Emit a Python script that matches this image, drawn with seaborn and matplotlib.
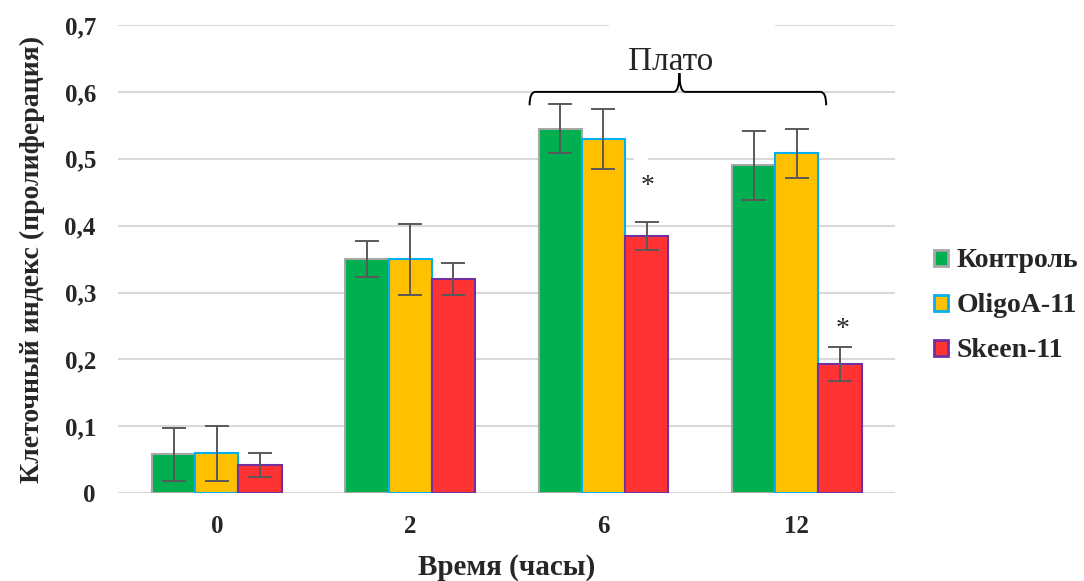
import pandas as pd
import numpy as np
import seaborn as sns
import matplotlib.pyplot as plt
from matplotlib.path import Path
from matplotlib.patches import PathPatch, Rectangle

# Data
times = ['0', '2', '6', '12']
series = ['Контроль', 'OligoA-11', 'Skeen-11']
control = [0.058, 0.350, 0.545, 0.490]
oligo = [0.060, 0.350, 0.530, 0.508]
skeen = [0.042, 0.320, 0.385, 0.193]
control_err = [0.039, 0.027, 0.037, 0.052]
oligo_err = [0.041, 0.053, 0.045, 0.036]
skeen_err = [0.018, 0.024, 0.021, 0.025]

fill_colors = ['#00b050', '#ffc000', '#ff3333']
edge_colors = ['#a6a6a6', '#00b0f0', '#7030a0']

df = pd.DataFrame({
    'time': times * 3,
    'group': np.repeat(series, len(times)),
    'value': control + oligo + skeen,
})
errs = [control_err, oligo_err, skeen_err]

sns.set_style('white')
plt.rcParams['font.family'] = ['Liberation Serif', 'DejaVu Serif']

fig = plt.figure(figsize=(10.84, 5.81), dpi=100)
ax = fig.add_axes([0.109, 0.151, 0.717, 0.806])

sns.barplot(data=df, x='time', y='value', hue='group', order=times,
            hue_order=series, palette=fill_colors, width=0.67,
            saturation=1, ax=ax, legend=True)

# edges + error bars
for cont, ec, err in zip(ax.containers, edge_colors, errs):
    xs, hs = [], []
    for bar in cont:
        bar.set_edgecolor(ec)
        bar.set_linewidth(1.5)
        xs.append(bar.get_x() + bar.get_width() / 2)
        hs.append(bar.get_height())
    ax.errorbar(xs, hs, yerr=err, fmt='none', ecolor='#595959',
                elinewidth=1.4, capsize=8.5, capthick=1.4, zorder=5)

ax.set_ylim(0, 0.7)
ax.set_xlim(-0.51, 3.51)
yt = np.arange(0, 0.71, 0.1)
ax.set_yticks(yt)
ax.set_yticklabels(['0'] + [('%.1f' % v).replace('.', ',') for v in yt[1:]])
ax.tick_params(axis='both', labelsize=18, length=0, pad=16)
for lab in ax.get_xticklabels() + ax.get_yticklabels():
    lab.set_fontweight('bold')
ax.yaxis.grid(True, color='#d9d9d9', linewidth=1.5)
ax.set_axisbelow(True)
sns.despine(ax=ax, left=True, bottom=True)
ax.axhline(0, color='#d9d9d9', linewidth=1.5, zorder=0.6)

ax.set_xlabel('Время (часы)', fontsize=21, fontweight='bold', labelpad=11)
ax.set_ylabel('Клеточный индекс (пролиферация)', fontsize=20,
              fontweight='bold', labelpad=14)

# gaps in the grid behind the text boxes
ax.add_patch(Rectangle((2.03, 0.69), 0.85, 0.02, color='white',
                       clip_on=False, zorder=0.8))
ax.add_patch(Rectangle((2.16, 0.495), 0.067, 0.01, color='white',
                       zorder=0.8))

# curly brace over 6 and 12
x0, x1, xm = 1.618, 3.152, 2.393
y0, y1, y2 = 0.58, 0.600, 0.628
r = 0.03
verts = [(x0, y0), (x0, y1), (x0 + r, y1),
         (xm - r, y1), (xm, y1), (xm, y2),
         (xm, y1), (xm + r, y1),
         (x1 - r, y1), (x1, y1), (x1, y0)]
codes = [Path.MOVETO, Path.CURVE3, Path.CURVE3,
         Path.LINETO, Path.CURVE3, Path.CURVE3,
         Path.CURVE3, Path.CURVE3,
         Path.LINETO, Path.CURVE3, Path.CURVE3]
ax.add_patch(PathPatch(Path(verts, codes), fill=False, edgecolor='black',
                       linewidth=1.4, clip_on=False, zorder=6))
ax.text(2.346, 0.645, 'Плато', fontsize=24, ha='center', va='center')

# significance marks
ax.text(2.227, 0.458, '*', fontsize=20, ha='center', va='center')
ax.text(3.235, 0.245, '*', fontsize=20, ha='center', va='center')

leg = ax.legend(loc='center left', bbox_to_anchor=(1.036, 0.40), frameon=False,
                prop={'weight': 'bold', 'size': 20}, handlelength=0.5,
                handleheight=0.5, handletextpad=0.3, labelspacing=0.72,
                borderaxespad=0)
for h, ec in zip(leg.legend_handles, edge_colors):
    h.set_edgecolor(ec)
    h.set_linewidth(2)

fig.savefig('out.png', dpi=100)
